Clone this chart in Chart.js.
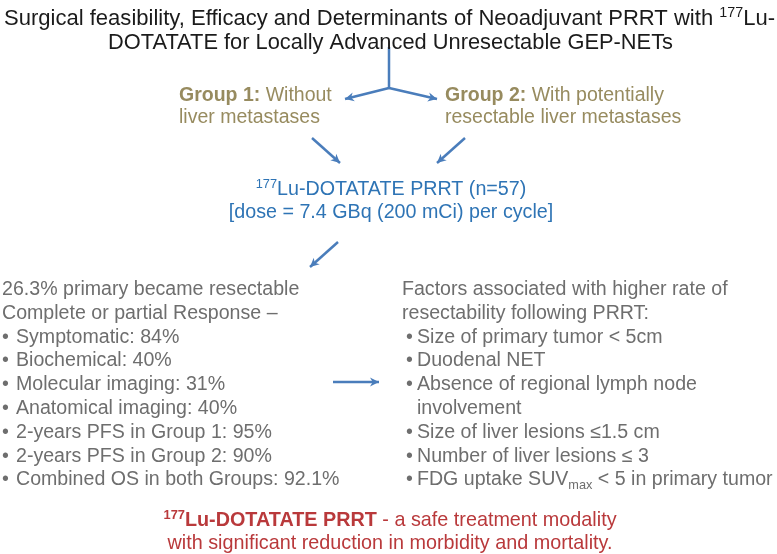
<!DOCTYPE html>
<html>
<head>
<meta charset="utf-8">
<script src="https://cdn.jsdelivr.net/npm/chart.js@4.4.0/dist/chart.umd.min.js"></script>
<style>
html,body{margin:0;padding:0;background:#ffffff;}
#wrap{width:777px;height:554px;}
</style>
</head>
<body>
<div id="wrap"><canvas id="c" width="777" height="554"></canvas></div>
<script>
// ---- Text content (markup: **bold**, ^{sup}, _{sub}) ----
const titleLines = [
  "Surgical feasibility, Efficacy and Determinants of Neoadjuvant PRRT with ^{177}Lu-",
  "DOTATATE for Locally Advanced Unresectable GEP-NETs"
];
const groupOneLines = ["**Group 1:** Without", "liver metastases"];
const groupTwoLines = ["**Group 2:** With potentially", "resectable liver metastases"];
const prrtLines = ["^{177}Lu-DOTATATE PRRT (n=57)", "[dose = 7.4 GBq (200 mCi) per cycle]"];
const responseHeader = ["26.3% primary became resectable", "Complete or partial Response –"];
const responseBullets = [
  "Symptomatic: 84%",
  "Biochemical: 40%",
  "Molecular imaging: 31%",
  "Anatomical imaging: 40%",
  "2-years PFS in Group 1: 95%",
  "2-years PFS in Group 2: 90%",
  "Combined OS in both Groups: 92.1%"
];
const factorHeader = ["Factors associated with higher rate of", "resectability following PRRT:"];
const factorBullets = [
  ["Size of primary tumor < 5cm"],
  ["Duodenal NET"],
  ["Absence of regional lymph node", "involvement"],
  ["Size of liver lesions ≤1.5 cm"],
  ["Number of liver lesions ≤ 3"],
  ["FDG uptake SUV_{max} < 5 in primary tumor"]
];
const conclusionLines = [
  "**^{177}Lu-DOTATATE PRRT** - a safe treatment modality",
  "with significant reduction in morbidity and mortality."
];

// ---- Flow arrows (from -> to, in page units) ----
const arrowFrom = [[389,47],[389,88],[389,88],[312,138],[465,138],[338,242],[333,382]];
const arrowTo   = [[389,88],[345,99],[437,99],[340,163],[437,163],[310,267],[379,382]];
const arrowHead = [false,true,true,true,true,true,true];

// ---- Styles ----
const FONT = '"Liberation Sans", Arial, sans-serif';
const C_TITLE = '#1b1b1b', C_GROUP = '#978b5f', C_BLUE = '#2e74b5',
      C_ARROW = '#4a7dbb', C_GRAY = '#6e6e6e', C_RED = '#b9393b';

function parseRich(s){
  const segs=[]; let bold=false; let i=0; let buf='';
  const push=(t,mode)=>{ if(t) segs.push({t, bold, mode}); };
  while(i<s.length){
    if(s.startsWith('**',i)){ push(buf,'n'); buf=''; bold=!bold; i+=2; continue; }
    if((s[i]==='^'||s[i]==='_') && s[i+1]==='{'){
      push(buf,'n'); buf='';
      const end=s.indexOf('}',i);
      push(s.slice(i+2,end), s[i]==='^'?'sup':'sub');
      i=end+1; continue;
    }
    buf+=s[i]; i++;
  }
  push(buf,'n');
  return segs;
}
function drawRich(ctx, str, x, y, o){
  const size=o.size, segs=parseRich(str);
  let total=0;
  segs.forEach(sg=>{
    const sz = sg.mode==='n'?size:size*0.65;
    sg.font=(sg.bold||o.bold?'bold ':'')+sz+'px '+FONT;
    ctx.font=sg.font; sg.w=ctx.measureText(sg.t).width; total+=sg.w;
  });
  const sc = o.fit ? o.fit/total : 1;
  let sx = x;
  if(o.align==='center') sx = x - total*sc/2;
  else if(o.align==='right') sx = x - total*sc;
  ctx.save();
  ctx.translate(sx,y); ctx.scale(sc,1);
  ctx.fillStyle=o.color; ctx.textBaseline='alphabetic'; ctx.textAlign='left';
  let cx=0;
  segs.forEach(sg=>{
    ctx.font=sg.font;
    const dy = sg.mode==='sup'? -size*0.36 : sg.mode==='sub'? size*0.2 : 0;
    ctx.fillText(sg.t, cx, dy); cx+=sg.w;
  });
  ctx.restore();
}

const textPlugin = {
  id:'infographic',
  afterDatasetsDraw(chart){
    const ctx=chart.ctx, xs=chart.scales.x, ys=chart.scales.y;
    const X=v=>xs.getPixelForValue(v), Y=v=>ys.getPixelForValue(v);
    // arrowheads
    ctx.save();
    ctx.fillStyle=C_ARROW;
    arrowFrom.forEach((f,i)=>{
      if(!arrowHead[i]) return;
      const x1=X(f[0]),y1=Y(f[1]),x2=X(arrowTo[i][0]),y2=Y(arrowTo[i][1]);
      const a=Math.atan2(y2-y1,x2-x1), L=9, W=4.5;
      ctx.beginPath();
      ctx.moveTo(x2,y2);
      ctx.lineTo(x2-L*Math.cos(a)+W*Math.sin(a), y2-L*Math.sin(a)-W*Math.cos(a));
      ctx.lineTo(x2-L*0.7*Math.cos(a), y2-L*0.7*Math.sin(a));
      ctx.lineTo(x2-L*Math.cos(a)-W*Math.sin(a), y2-L*Math.sin(a)+W*Math.cos(a));
      ctx.closePath(); ctx.fill();
    });
    ctx.restore();
    // title
    drawRich(ctx,titleLines[0],X(4),Y(25),{size:22,color:C_TITLE,fit:771});
    drawRich(ctx,titleLines[1],X(108),Y(49),{size:22,color:C_TITLE,fit:565});
    // groups
    groupOneLines.forEach((t,i)=>drawRich(ctx,t,X(179),Y(101+i*21.5),{size:19.5,color:C_GROUP}));
    groupTwoLines.forEach((t,i)=>drawRich(ctx,t,X(445),Y(101+i*21.5),{size:19.5,color:C_GROUP}));
    // PRRT
    prrtLines.forEach((t,i)=>drawRich(ctx,t,X(391),Y(195+i*23),{size:19.7,color:C_BLUE,align:'center'}));
    // left block
    const lh=23.8, fs=19.6;
    responseHeader.forEach((t,i)=>drawRich(ctx,t,X(2),Y(295+i*lh),{size:fs,color:C_GRAY}));
    responseBullets.forEach((t,i)=>{
      const yy=Y(295+(i+2)*lh);
      drawRich(ctx,'•',X(2),yy,{size:fs,color:C_GRAY});
      drawRich(ctx,t,X(16),yy,{size:fs,color:C_GRAY});
    });
    // right block
    factorHeader.forEach((t,i)=>drawRich(ctx,t,X(402),Y(295+i*lh),{size:fs,color:C_GRAY}));
    let row=2;
    factorBullets.forEach(lines=>{
      lines.forEach((t,j)=>{
        const yy=Y(295+row*lh);
        if(j===0) drawRich(ctx,'•',X(406),yy,{size:fs,color:C_GRAY});
        drawRich(ctx,t,X(417),yy,{size:fs,color:C_GRAY});
        row++;
      });
    });
    // conclusion
    conclusionLines.forEach((t,i)=>drawRich(ctx,t,X(390),Y(526+i*23),{size:19.8,color:C_RED,align:'center'}));
  }
};

const datasets = arrowFrom.map((f,i)=>({
  data:[{x:f[0],y:f[1]},{x:arrowTo[i][0],y:arrowTo[i][1]}],
  showLine:true, borderColor:C_ARROW, borderWidth:2.5, pointRadius:0, fill:false
}));

new Chart(document.getElementById('c'),{
  type:'scatter',
  data:{datasets},
  options:{
    responsive:false, animation:false, devicePixelRatio:1,
    layout:{padding:0},
    plugins:{legend:{display:false},tooltip:{enabled:false},title:{display:false}},
    scales:{
      x:{type:'linear',min:0,max:777,display:false},
      y:{type:'linear',min:0,max:554,reverse:true,display:false}
    }
  },
  plugins:[textPlugin]
});
</script>
</body>
</html>
